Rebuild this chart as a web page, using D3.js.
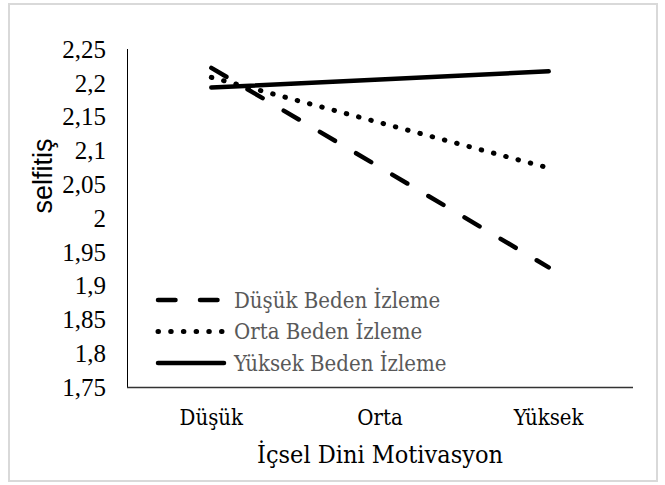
<!DOCTYPE html>
<html>
<head>
<meta charset="utf-8">
<script src="https://cdn.jsdelivr.net/npm/d3@7"></script>
<style>
  body { margin: 0; background: #fff; }
  svg { display: block; }
  .tick-label { font-family: "Liberation Serif", "Times New Roman", Times, serif; }
</style>
</head>
<body>
<svg class="svg"></svg>
<script>
const categories = ['Düşük', 'Orta', 'Yüksek'];
const yTicks = [1.75, 1.8, 1.85, 1.9, 1.95, 2, 2.05, 2.1, 2.15, 2.2, 2.25];
const seriesNames = ['Düşük Beden İzleme', 'Orta Beden İzleme', 'Yüksek Beden İzleme'];
const dusukValues = [2.222, 2.075, 1.927];
const ortaValues = [2.208, 2.141, 2.074];
const yuksekValues = [2.193, 2.205, 2.217];

const width = 665;
const height = 485;
const serif = "'DejaVu Serif Condensed', 'Liberation Serif', serif";

const series = [
  { name: seriesNames[0], values: dusukValues, dash: '17.5 24.5', width: 4.5 },
  { name: seriesNames[1], values: ortaValues, dash: '0.5 12.2', width: 5 },
  { name: seriesNames[2], values: yuksekValues, dash: null, width: 4.5 }
];

const svg = d3.select('.svg').attr('width', width).attr('height', height);

// outer chart border
svg.append('rect')
  .attr('x', 9).attr('y', 4)
  .attr('width', 648).attr('height', 477)
  .attr('fill', '#fff')
  .attr('stroke', '#d9d9d9')
  .attr('stroke-width', 2);

const x = d3.scaleBand().domain(categories).range([127, 633]).padding(0);
const y = d3.scaleLinear().domain([1.75, 2.25]).range([387, 49]);
const cx = d => x(d) + x.bandwidth() / 2;

// y tick labels
svg.append('g')
  .selectAll('text')
  .data(yTicks)
  .join('text')
  .attr('class', 'tick-label')
  .attr('x', 106)
  .attr('y', d => y(d))
  .attr('dy', '0.35em')
  .attr('text-anchor', 'end')
  .style('font-size', '25px')
  .attr('fill', '#000')
  .text(d => d3.format('.2~f')(d).replace('.', ','));

// axes lines
svg.append('line')
  .attr('x1', 127.5).attr('x2', 127.5)
  .attr('y1', 49).attr('y2', 387)
  .attr('stroke', '#000').attr('stroke-width', 1);

svg.append('line')
  .attr('x1', 127).attr('x2', 633)
  .attr('y1', 387.5).attr('y2', 387.5)
  .attr('stroke', '#333').attr('stroke-width', 1.3);

// category labels
svg.append('g')
  .selectAll('text')
  .data(categories)
  .join('text')
  .attr('x', d => cx(d))
  .attr('y', 425)
  .attr('text-anchor', 'middle')
  .attr('font-family', serif)
  .attr('font-size', 22)
  .attr('fill', '#000')
  .text(d => d);

// axis titles
svg.append('text')
  .attr('x', 380)
  .attr('y', 463)
  .attr('text-anchor', 'middle')
  .attr('font-family', serif)
  .attr('font-size', 25)
  .attr('fill', '#000')
  .text('İçsel Dini Motivasyon');

svg.append('text')
  .attr('transform', 'translate(52,176) rotate(-90)')
  .attr('text-anchor', 'middle')
  .attr('font-family', "'Liberation Sans', Arial, sans-serif")
  .attr('font-size', 27)
  .attr('fill', '#000')
  .text('selfitiş');

// lines
const line = d3.line()
  .x((d, i) => cx(categories[i]))
  .y(d => y(d));

svg.append('g')
  .selectAll('path')
  .data(series)
  .join('path')
  .attr('d', d => line(d.values))
  .attr('fill', 'none')
  .attr('stroke', '#000')
  .attr('stroke-width', d => d.width)
  .attr('stroke-linecap', 'round')
  .attr('stroke-dasharray', d => d.dash);

// legend
const legend = svg.append('g')
  .selectAll('g')
  .data(series)
  .join('g')
  .attr('transform', (d, i) => `translate(0,${300 + i * 31.5})`);

legend.append('line')
  .attr('x1', 158).attr('x2', 224)
  .attr('y1', 0).attr('y2', 0)
  .attr('stroke', '#000')
  .attr('stroke-width', d => d.width)
  .attr('stroke-linecap', 'round')
  .attr('stroke-dasharray', d => d.dash);

legend.append('text')
  .attr('x', 234)
  .attr('y', 0)
  .attr('dy', '0.35em')
  .attr('font-family', serif)
  .attr('font-size', 22)
  .attr('fill', '#595959')
  .text(d => d.name);
</script>
</body>
</html>
